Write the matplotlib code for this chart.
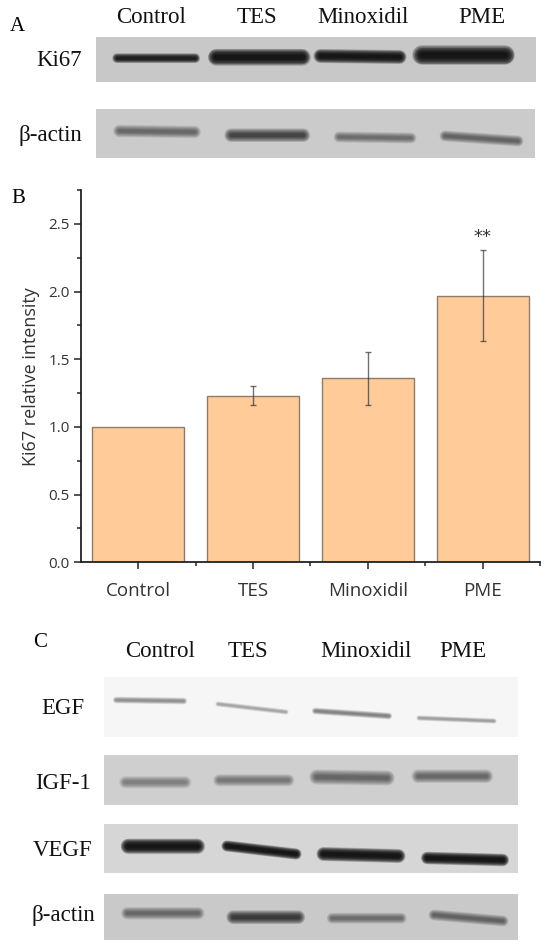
import matplotlib
matplotlib.use("Agg")
import matplotlib.pyplot as plt
from matplotlib.patches import Rectangle

# ---- data ----
groups = ["Control", "TES", "Minoxidil", "PME"]
ki67_mean = [1.0, 1.23, 1.36, 1.97]
ki67_err = [0.0, 0.07, 0.195, 0.335]
stars = ["", "", "", "**"]

# band darkness per lane (0 = invisible, 1 = saturated black)
ki67_bands = [0.8, 1.0, 0.97, 1.0]
actin_a_bands = [0.28, 0.45, 0.25, 0.3]
egf_bands = [0.22, 0.15, 0.25, 0.18]
igf_bands = [0.2, 0.22, 0.3, 0.27]
vegf_bands = [1.0, 1.0, 1.0, 1.0]
actin_c_bands = [0.28, 0.5, 0.25, 0.3]

W, H = 550, 947
fig = plt.figure(figsize=(W / 100, H / 100), dpi=100)
fig.patch.set_facecolor("white")

# overlay axes in pixel coordinates for the blot panels
ov = fig.add_axes([0, 0, 1, 1])
ov.set_xlim(0, W)
ov.set_ylim(H, 0)
ov.axis("off")

serif = "Liberation Serif"


def px2pt(v):
    return v * 72 / 100


def blot(box, bg, bands, geom):
    x0, y0, x1, y1 = box
    ov.add_patch(Rectangle((x0, y0), x1 - x0, y1 - y0, facecolor=bg,
                           edgecolor="none", zorder=1))
    for dark, (bx0, bx1, by0, by1, t) in zip(bands, geom):
        n = 12
        for k in range(n):
            w = t * (1.4 - k * 0.1)
            ov.plot([bx0 + t * 0.25, bx1 - t * 0.25], [by0, by1],
                    color="#0a0a0a", lw=px2pt(w), alpha=dark * 0.2,
                    solid_capstyle="round", zorder=2)


def row_label(x, y, s, ha="right"):
    ov.text(x, y, s, fontsize=16.5, family=serif, ha=ha, va="center",
            color="#111111")


# ---- panel A ----
ov.text(17, 26, "A", fontsize=15, family=serif, ha="center", va="center")
for s, x in zip(groups, [151, 257, 363, 482]):
    ov.text(x, 17, s, fontsize=16.5, family=serif, ha="center", va="center",
            color="#111111")

blot((96, 37, 536, 82), "#c8c8c8", ki67_bands,
     [(115, 197, 58, 58, 7), (213, 305, 57, 57, 12),
      (318, 402, 56, 57, 10), (418, 508, 55, 55, 14)])
row_label(82, 60, "Ki67")

blot((96, 109, 535, 158), "#cbcbcb", actin_a_bands,
     [(117, 197, 131, 132, 9), (228, 305, 135, 135, 10),
      (337, 413, 137, 138, 8), (443, 520, 136, 141, 8)])
row_label(82, 135, "β-actin")

# ---- panel B: bar chart ----
ov.text(18, 198, "B", fontsize=15, family=serif, ha="center", va="center")

sans = "Open Sans"
ax_l, ax_r, ax_t, ax_b = 80.7, 540, 190, 562.3
ax = fig.add_axes([ax_l / W, 1 - ax_b / H, (ax_r - ax_l) / W, (ax_b - ax_t) / H])
x = list(range(len(groups)))
ax.bar(x, ki67_mean, width=0.8, color="#ffcc99", edgecolor="#8c7c6c",
       linewidth=1.0, zorder=2)
ex = [i for i in x if ki67_err[i] > 0]
ax.errorbar(ex, [ki67_mean[i] for i in ex], yerr=[ki67_err[i] for i in ex],
            fmt="none", ecolor="#333333", elinewidth=1.0, capsize=2.2,
            capthick=1.0, alpha=0.7, zorder=3)
for i, s in enumerate(stars):
    if s:
        ax.text(i, 2.40, s, fontsize=13, family="DejaVu Sans", ha="center",
                va="center", color="#333333")

ax.set_xlim(-0.5, 3.5)
ax.set_ylim(0, 2.75)
ax.set_xticks(x)
ax.set_xticklabels(groups, family=sans, fontsize=13.5, color="#333333")
ax.set_xticks([0.5, 1.5, 2.5, 3.5], minor=True)
ax.set_yticks([0.0, 0.5, 1.0, 1.5, 2.0, 2.5])
ax.set_yticklabels(["0.0", "0.5", "1.0", "1.5", "2.0", "2.5"],
                   family=sans, fontsize=11, color="#333333")
ax.set_yticks([0.25, 0.75, 1.25, 1.75, 2.25, 2.75], minor=True)
ax.tick_params(axis="both", which="major", direction="out", length=5,
               width=1.1, color="#222222")
ax.tick_params(axis="both", which="minor", direction="out", length=3,
               width=1.1, color="#222222")
ax.tick_params(axis="x", which="major", pad=9)
ax.tick_params(axis="y", which="major", pad=3)
ax.set_ylabel("Ki67 relative intensity", family=sans, fontsize=13,
              color="#333333", labelpad=6)
for side in ["top", "right"]:
    ax.spines[side].set_visible(False)
for side in ["left", "bottom"]:
    ax.spines[side].set_linewidth(1.3)
    ax.spines[side].set_color("#222222")
ax.set_facecolor("none")

# ---- panel C ----
ov.text(40, 642, "C", fontsize=15, family=serif, ha="center", va="center")
for s, xx in zip(groups, [160, 248, 366, 463]):
    ov.text(xx, 651, s, fontsize=16.5, family=serif, ha="center",
            va="center", color="#111111")

blot((104, 677, 518, 737), "#f6f6f6", egf_bands,
     [(115, 185, 700, 701, 5), (217, 287, 704, 712, 4),
      (314, 390, 711, 716, 5), (418, 495, 718, 721, 4)])
row_label(63, 708, "EGF", ha="center")

blot((104, 755, 518, 805), "#cfcfcf", igf_bands,
     [(123, 187, 782, 782, 9), (217, 290, 780, 780, 9),
      (314, 390, 777, 778, 11), (415, 488, 776, 776, 10)])
row_label(63, 783, "IGF-1", ha="center")

blot((104, 824, 518, 873), "#d6d6d6", vegf_bands,
     [(125, 200, 846, 846, 11), (225, 298, 846, 854, 8),
      (321, 401, 854, 856, 10), (425, 505, 858, 860, 9)])
row_label(63, 850, "VEGF", ha="center")

blot((104, 894, 518, 940), "#c9c9c9", actin_c_bands,
     [(125, 200, 913, 913, 9), (230, 300, 917, 917, 10),
      (330, 403, 918, 918, 8), (432, 505, 915, 921, 8)])
row_label(63, 915, "β-actin", ha="center")

fig.savefig("out.png", dpi=100)
